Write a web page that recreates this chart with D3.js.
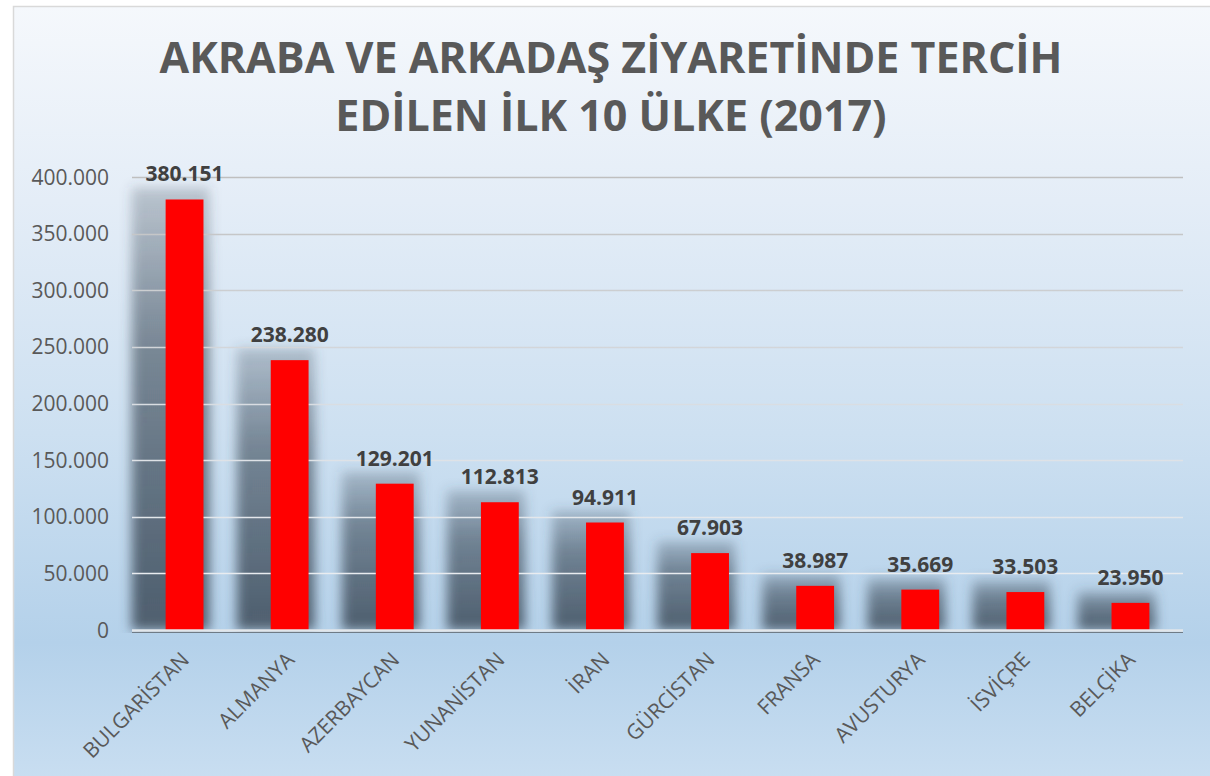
<!DOCTYPE html>
<html>
<head>
<meta charset="utf-8">
<script src="https://cdn.jsdelivr.net/npm/d3@7"></script>
<style>
  body { margin: 0; background: #fff; }
  text { font-family: "Open Sans", "Noto Sans", sans-serif; }
</style>
</head>
<body>
<div class="plot"></div>
<script>
var countries = ["BULGARİSTAN", "ALMANYA", "AZERBAYCAN", "YUNANİSTAN", "İRAN",
                 "GÜRCİSTAN", "FRANSA", "AVUSTURYA", "İSVİÇRE", "BELÇİKA"];
var values = [380151, 238280, 129201, 112813, 94911, 67903, 38987, 35669, 33503, 23950];
var yTicks = [0, 50000, 100000, 150000, 200000, 250000, 300000, 350000, 400000];
var titleLines = ["AKRABA VE ARKADAŞ ZİYARETİNDE TERCİH", "EDİLEN İLK 10 ÜLKE (2017)"];

var width = 1210,
    height = 776,
    plotLeft = 132, plotRight = 1183,
    plotTop = 177, plotBottom = 630;

var locale = d3.formatLocale({decimal: ",", thousands: ".", grouping: [3], currency: ["", ""]});
var fmt = locale.format(",d");

var svg = d3.select(".plot").append("svg")
    .attr("width", width)
    .attr("height", height);

var defs = svg.append("defs");

// chart background
var bg = defs.append("linearGradient")
    .attr("id", "bg")
    .attr("x1", 0).attr("y1", 0).attr("x2", 0).attr("y2", 1);
[[0, "#f5f8fc"], [0.25, "#e4edf7"], [0.55, "#cde0f1"], [0.82, "#b4d1ea"], [1, "#c9def1"]]
  .forEach(function(s) { bg.append("stop").attr("offset", s[0]).attr("stop-color", s[1]); });

// gridline colour goes from gray to near white
var gl = defs.append("linearGradient")
    .attr("id", "gl")
    .attr("gradientUnits", "userSpaceOnUse")
    .attr("x1", 0).attr("y1", plotTop).attr("x2", 0).attr("y2", plotBottom);
gl.append("stop").attr("offset", 0).attr("stop-color", "#bfbfbf");
gl.append("stop").attr("offset", 0.5).attr("stop-color", "#d9dde2");
gl.append("stop").attr("offset", 1).attr("stop-color", "#eef1f4");

var sh = defs.append("linearGradient")
    .attr("id", "sh")
    .attr("x1", 0).attr("y1", 0).attr("x2", 0).attr("y2", 1);
sh.append("stop").attr("offset", 0).attr("stop-color", "#3c4a58").attr("stop-opacity", 0.25);
sh.append("stop").attr("offset", 0.35).attr("stop-color", "#3c4a58").attr("stop-opacity", 0.6);
sh.append("stop").attr("offset", 1).attr("stop-color", "#3c4a58").attr("stop-opacity", 0.85);

defs.append("filter")
    .attr("id", "blur")
    .attr("x", "-50%").attr("y", "-50%").attr("width", "200%").attr("height", "200%")
  .append("feGaussianBlur")
    .attr("stdDeviation", 6);

defs.append("clipPath")
    .attr("id", "plotclip")
  .append("rect")
    .attr("x", 0).attr("y", 0).attr("width", width).attr("height", plotBottom + 3);

svg.append("rect")
    .attr("x", 13.5).attr("y", 6.5)
    .attr("width", width).attr("height", height)
    .attr("fill", "url(#bg)")
    .attr("stroke", "#d9d9d9")
    .attr("stroke-width", 1.5);

var x = d3.scaleBand()
    .domain(countries)
    .range([plotLeft, plotRight])
    .paddingInner(0.64)
    .paddingOuter(0.32);

var y = d3.scaleLinear()
    .domain([0, 400000])
    .range([plotBottom, plotTop]);

// title
svg.append("g").selectAll("text")
    .data(titleLines)
  .enter().append("text")
    .attr("x", 611)
    .attr("y", function(d, i) { return 73 + i * 58; })
    .attr("text-anchor", "middle")
    .style("font-size", "43px")
    .style("font-weight", "bold")
    .style("fill", "#595959")
    .text(function(d) { return d; });

// shadows behind the bars
svg.append("g")
    .attr("clip-path", "url(#plotclip)")
  .selectAll("rect")
    .data(values)
  .enter().append("rect")
    .attr("x", function(d, i) { return x(countries[i]) - 34; })
    .attr("y", function(d) { return y(d) - 12; })
    .attr("width", x.bandwidth() + 40)
    .attr("height", function(d) { return plotBottom - y(d) + 12; })
    .attr("fill", "url(#sh)")
    .attr("filter", "url(#blur)");

// gridlines + y labels
var yAxis = svg.append("g");
yAxis.selectAll("line")
    .data(yTicks.slice(1))
  .enter().append("line")
    .attr("x1", plotLeft).attr("x2", plotRight)
    .attr("y1", function(d) { return Math.round(y(d)) + 0.5; })
    .attr("y2", function(d) { return Math.round(y(d)) + 0.5; })
    .attr("stroke", "url(#gl)")
    .attr("stroke-width", 1.6);

yAxis.selectAll("text")
    .data(yTicks)
  .enter().append("text")
    .attr("x", 109)
    .attr("y", function(d) { return y(d); })
    .attr("dy", "0.36em")
    .attr("text-anchor", "end")
    .style("font-size", "21px")
    .style("fill", "#595959")
    .text(function(d) { return fmt(d); });

// bars
svg.append("g").selectAll("rect")
    .data(values)
  .enter().append("rect")
    .attr("x", function(d, i) { return x(countries[i]); })
    .attr("y", function(d) { return y(d); })
    .attr("width", x.bandwidth())
    .attr("height", function(d) { return plotBottom - y(d); })
    .attr("fill", "#ff0000");

// baseline
svg.append("line")
    .attr("x1", plotLeft).attr("x2", plotRight)
    .attr("y1", plotBottom + 2.5).attr("y2", plotBottom + 2.5)
    .attr("stroke", "#6f7b86").attr("stroke-width", 1);
svg.append("line")
    .attr("x1", plotLeft).attr("x2", plotRight)
    .attr("y1", plotBottom + 0.5).attr("y2", plotBottom + 0.5)
    .attr("stroke", "#e2e6ea").attr("stroke-width", 2.5);

// value labels
svg.append("g").selectAll("text")
    .data(values)
  .enter().append("text")
    .attr("x", function(d, i) { return x(countries[i]) + x.bandwidth() / 2; })
    .attr("y", function(d) { return y(d) - 18; })
    .attr("text-anchor", "middle")
    .style("font-size", "21px")
    .style("font-weight", "bold")
    .style("fill", "#404040")
    .text(function(d) { return fmt(d); });

// category labels
svg.append("g").selectAll("text")
    .data(countries)
  .enter().append("text")
    .attr("transform", function(d) {
      return "translate(" + (x(d) + x.bandwidth() / 2 + 6) + "," + 661 + ") rotate(-45)";
    })
    .attr("text-anchor", "end")
    .style("font-size", "21px")
    .style("fill", "#595959")
    .text(function(d) { return d; });
</script>
</body>
</html>
